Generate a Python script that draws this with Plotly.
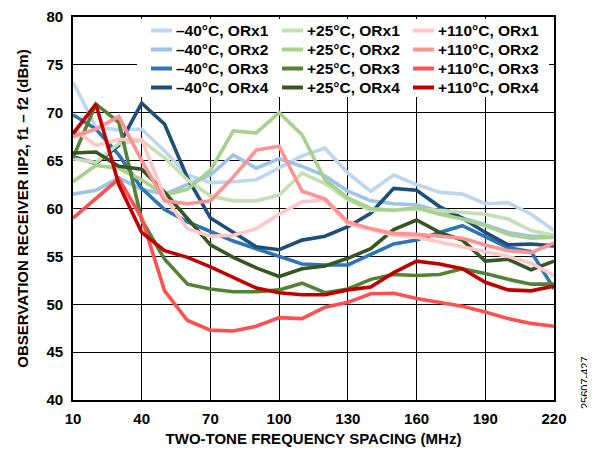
import plotly.graph_objects as go

# ---------------- data ----------------
freq_mhz = [10, 20, 30, 40, 50, 60, 70, 80, 90, 100, 110,
            120, 130, 140, 150, 160, 170, 180, 190, 200, 210, 220]

x_tick_vals = [10, 40, 70, 100, 130, 160, 190, 220]
x_tick_text = ["10", "40", "70", "100", "130", "160", "190", "220"]
y_tick_vals = [40, 45, 50, 55, 60, 65, 70, 75, 80]
y_tick_text = ["40", "45", "50", "55", "60", "65", "70", "75", "80"]

m40_orx1 = [73.2, 68.5, 68.2, 68.3, 66.0, 63.5, 62.7, 62.8, 63.0, 64.2, 65.5,
            66.3, 63.7, 61.8, 63.5, 62.5, 61.7, 61.5, 60.5, 60.6, 59.4, 57.7]
m40_orx2 = [61.5, 61.9, 63.2, 62.0, 61.5, 62.5, 63.5, 65.6, 64.2, 65.2, 64.4,
            63.4, 61.8, 60.8, 60.5, 60.4, 59.7, 59.0, 58.3, 57.5, 57.1, 57.1]
m40_orx3 = [69.8, 68.3, 65.6, 62.1, 59.9, 58.6, 57.6, 56.6, 55.8, 55.0, 54.2,
            54.1, 54.1, 55.2, 56.3, 56.7, 57.5, 58.2, 57.0, 55.9, 55.5, 51.6]
m40_orx4 = [65.4, 64.7, 66.6, 71.0, 68.8, 63.2, 59.0, 57.5, 56.0, 55.7, 56.7,
            57.1, 58.1, 59.5, 62.1, 61.9, 60.2, 59.0, 57.5, 56.2, 56.3, 56.1]

p25_orx1 = [65.2, 64.8, 66.8, 67.1, 65.3, 63.0, 61.3, 60.8, 60.8, 61.4, 63.7,
            62.6, 60.9, 59.8, 59.9, 59.9, 59.8, 59.6, 59.4, 58.9, 57.7, 57.2]
p25_orx2 = [62.8, 64.5, 64.2, 63.0, 61.4, 62.0, 64.0, 68.1, 67.9, 70.0, 67.7,
            63.0, 61.1, 60.0, 59.8, 60.1, 59.4, 58.9, 58.2, 57.3, 56.9, 57.0]
p25_orx3 = [65.3, 70.9, 69.0, 58.8, 54.7, 52.1, 51.6, 51.3, 51.3, 51.5, 52.2,
            51.2, 51.6, 52.6, 53.1, 53.0, 53.1, 53.7, 53.2, 52.6, 52.1, 52.1]
p25_orx4 = [65.8, 65.9, 64.4, 64.1, 61.7, 58.9, 56.2, 54.9, 53.8, 52.9, 53.7,
            54.0, 54.8, 55.8, 57.8, 58.8, 57.5, 56.7, 54.5, 54.7, 53.6, 54.5]

p110_orx1 = [68.3, 66.6, 67.2, 67.2, 61.2, 57.9, 57.1, 57.2, 57.9, 59.4, 60.7,
             60.9, 58.4, 57.8, 57.2, 57.0, 56.5, 56.0, 55.5, 55.0, 54.3, 53.0]
p110_orx2 = [67.5, 68.3, 69.6, 65.0, 60.8, 60.5, 60.8, 63.3, 66.1, 66.5, 61.8,
             61.0, 58.6, 57.9, 57.4, 57.3, 57.1, 56.9, 56.2, 55.6, 55.4, 56.4]
p110_orx3 = [59.0, 61.1, 63.1, 59.0, 51.4, 48.3, 47.3, 47.2, 47.7, 48.6, 48.5,
             49.7, 50.2, 51.1, 51.15, 50.6, 50.2, 49.8, 49.2, 48.5, 48.0, 47.7]
p110_orx4 = [67.8, 70.9, 62.5, 57.5, 55.6, 54.9, 53.9, 52.8, 51.7, 51.2, 51.0,
             51.0, 51.5, 51.8, 53.3, 54.5, 54.2, 53.7, 52.3, 51.5, 51.4, 51.9]

series_names = [
    "\u201340\u00b0C, ORx1", "\u201340\u00b0C, ORx2", "\u201340\u00b0C, ORx3", "\u201340\u00b0C, ORx4",
    "+25\u00b0C, ORx1", "+25\u00b0C, ORx2", "+25\u00b0C, ORx3", "+25\u00b0C, ORx4",
    "+110\u00b0C, ORx1", "+110\u00b0C, ORx2", "+110\u00b0C, ORx3", "+110\u00b0C, ORx4",
]
series_values = [m40_orx1, m40_orx2, m40_orx3, m40_orx4,
                 p25_orx1, p25_orx2, p25_orx3, p25_orx4,
                 p110_orx1, p110_orx2, p110_orx3, p110_orx4]

x_title = "TWO-TONE FREQUENCY SPACING (MHz)"
y_title = "OBSERVATION RECEIVER IIP2, f1 \u2013 f2 (dBm)"
side_note = "25607-427"

# ---------------- styles ----------------
series_colors = ["#BDD7EE", "#9DC3E6", "#2E75B6", "#1F4E79",
                 "#C5E0B4", "#A9D18E", "#548235", "#375623",
                 "#FFC7C7", "#FF9393", "#FF5050", "#C00000"]

FONT = "Liberation Sans, Arial, sans-serif"
OFF = 8                      # page body margin
W, H = 595 - OFF, 455 - OFF  # figure size
# plot area, in page pixels of the target picture
L, R, T, B = 73, 554, 17, 400


def pxx(xp):
    return (xp - L) / (R - L)


def pxy(yp):
    return (B - yp) / (B - T)


fig = go.Figure()
for name, vals, col in zip(series_names, series_values, series_colors):
    fig.add_trace(go.Scatter(
        x=freq_mhz, y=vals, mode="lines", name=name,
        line=dict(color=col, width=3.6), showlegend=False,
    ))

shapes = []
annotations = []

# legend box (white, covers grid)
shapes.append(dict(type="rect", xref="paper", yref="paper",
                   x0=pxx(137), x1=pxx(549), y0=pxy(97), y1=pxy(19),
                   fillcolor="white", line=dict(width=0), layer="above"))
col_x = [151, 282, 413]
row_y = [30.5, 49.5, 68.5, 87.5]
for i, (name, col) in enumerate(zip(series_names, series_colors)):
    c, r = i // 4, i % 4
    x0 = col_x[c]
    yy = row_y[r]
    shapes.append(dict(type="line", xref="paper", yref="paper",
                       x0=pxx(x0), x1=pxx(x0 + 21), y0=pxy(yy), y1=pxy(yy),
                       line=dict(color=col, width=4), layer="above"))
    annotations.append(dict(xref="paper", yref="paper", x=pxx(x0 + 23), y=pxy(yy),
                            xanchor="left", yanchor="middle", showarrow=False,
                            text=name, font=dict(family=FONT, size=15.5, color="black", weight="bold")))

annotations.append(dict(xref="paper", yref="paper", x=pxx(585), y=pxy(383),
                        xanchor="center", yanchor="middle", showarrow=False, textangle=-90,
                        text=side_note, font=dict(family=FONT, size=11, color="black")))

axis_common = dict(showgrid=True, gridcolor="black", gridwidth=1.3,
                   showline=True, linecolor="black", linewidth=1.6, mirror=True,
                   zeroline=False, ticks="", automargin=False,
                   tickfont=dict(family=FONT, size=15, color="black", weight="bold"))

fig.update_layout(
    width=W, height=H,
    margin=dict(l=L - OFF, r=W - (R - OFF), t=T - OFF, b=H - (B - OFF), pad=0),
    paper_bgcolor="white", plot_bgcolor="white",
    showlegend=False,
    shapes=shapes, annotations=annotations,
    xaxis=dict(range=[10, 220], tickvals=x_tick_vals, ticktext=x_tick_text,
               ticklabelstandoff=4,
               title=dict(text=x_title, standoff=8,
                          font=dict(family=FONT, size=15, color="black", weight="bold")),
               **axis_common),
    yaxis=dict(range=[40, 80], tickvals=y_tick_vals, ticktext=y_tick_text,
               ticklabelstandoff=5,
               title=dict(text=y_title, standoff=14,
                          font=dict(family=FONT, size=15, color="black", weight="bold")),
               **axis_common),
)

fig.write_html("out.html")
